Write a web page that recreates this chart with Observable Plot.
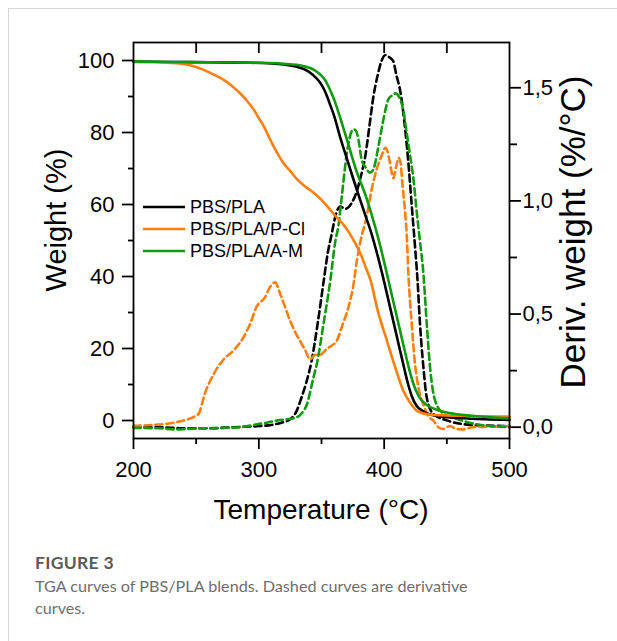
<!DOCTYPE html>
<html>
<head>
<meta charset="utf-8">
<script src="https://cdn.jsdelivr.net/npm/d3@7"></script>
<script src="https://cdn.jsdelivr.net/npm/@observablehq/plot@0.6"></script>
<style>
  html, body { margin: 0; padding: 0; background: #fff; }
  body { width: 617px; height: 641px; overflow: hidden; position: relative; font-family: "Liberation Sans", Arial, sans-serif; }
  #border { position: absolute; left: 8px; top: 8px; width: 720px; height: 720px; border: 1px solid #d6d6d6; }
  #chart { position: absolute; left: 0; top: 0; }
  .ytitle { position: absolute; white-space: nowrap; line-height: 1; color: #000; transform: translate(-50%, -50%) rotate(-90deg); }
  #xtitle { position: absolute; white-space: nowrap; line-height: 1; color: #000; transform: translateX(-50%); }
  #legend { position: absolute; left: 143px; top: 196px; }
  .row { height: 22px; display: flex; align-items: center; font-size: 18px; color: #000; }
  .row svg { margin-right: 5px; }
  #caption { position: absolute; left: 35px; top: 551px; width: 560px; font-family: Lato, "Open Sans", sans-serif; }
  #fig { font-weight: 700; font-size: 17.5px; line-height: 24px; color: #5a5a5a; letter-spacing: 0.3px; }
  #cap { font-size: 16.2px; line-height: 22.3px; color: #6e6e6e; width: 450px; }
</style>
</head>
<body>
<div id="border"></div>
<div id="chart"></div>
<div class="ytitle" style="left:56px; top:220px; font-size:29px;">Weight (%)</div>
<div class="ytitle" style="left:572px; top:232px; font-size:35px;">Deriv. weight (%/°C)</div>
<div id="xtitle" style="left:321px; top:496px; font-size:28px;">Temperature (°C)</div>
<div id="legend"></div>
<div id="caption">
  <div id="fig">FIGURE 3</div>
  <div id="cap">TGA curves of PBS/PLA blends. Dashed curves are derivative curves.</div>
</div>
<script>
// ---------- data ----------
const seriesNames = ["PBS/PLA", "PBS/PLA/P-Cl", "PBS/PLA/A-M"];
const seriesColors = ["#000000", "#ff7f0e", "#109a10"];

// TGA weight (%) curves
const plaT = [200,230,260,290,310,320,330,336,341,345,349,352,354.5,357,360,365,370,375,380,385,390,395,400,405,410,415,419,422,426,430,434,440,445,460,480,500];
const plaW = [99.7,99.6,99.5,99.4,99.2,98.9,98.3,97.6,96.6,95.4,93.8,92.0,90.0,87.6,84.7,78.6,73.0,67.5,62.2,57.0,51.8,45.5,38.5,31.0,23.5,16.0,10.2,6.8,4.0,2.8,2.0,1.4,1.1,0.7,0.35,0.15];

const pclT = [200,220,237,250,256,264,272,279,285,291,296,300,304,308,312,316,320,325,330,337,344,350,357,362,368,372,376,382,385,389,395,402,408.6,415,421,427,437,458,500];
const pclW = [99.6,99.5,99.2,98.2,97.4,96.1,94.6,92.8,90.9,88.6,86.3,84.0,81.7,78.8,76.0,73.5,71.3,69.3,67.2,65.0,63.2,61.3,58.5,56.5,54.2,52.2,49.8,45.6,42.8,39.1,30.3,22.4,15.0,8.5,4.8,2.5,1.6,1.3,1.1];

const amT = [200,230,260,290,310,320,330,337,341,345,349,352,355,358,360,365,371.5,378,385,390,395,400,405,410,415,420,424,428,434,442,452,470,500];
const amW = [99.7,99.6,99.5,99.4,99.3,99.1,98.8,98.3,97.9,97.2,96.1,95.0,93.2,90.9,89.2,84.0,76.6,69.2,62.7,57.2,51.0,44.0,36.5,29.0,21.5,14.2,9.5,6.5,4.3,3.0,2.1,1.3,0.6];

// DTG derivative (%/°C) curves
const plaDT = [200,220,240,260,280,300,310,318,325,330,334,338,342,347,351.6,355,358,362,365,369,372,375,378,381,385,388,391.4,395,398,401,404,407,410,412.7,416.7,419.3,422,424.6,426.5,428.6,431.3,434,439,450,470,500];
const plaD = [0.0,0.0,-0.005,-0.005,0.0,0.005,0.01,0.02,0.035,0.07,0.13,0.2,0.29,0.46,0.64,0.77,0.85,0.95,0.975,0.965,0.975,1.0,1.04,1.1,1.2,1.32,1.46,1.56,1.62,1.645,1.635,1.62,1.55,1.49,1.32,1.17,0.98,0.8,0.66,0.456,0.265,0.13,0.06,0.03,0.01,0.005];

const pclDT = [200,215,227,240,248,252,257,264,272,280,288,293,298,305,309,313,317,321,325,329,333,337,341,345,349,354,358,362,367,371.5,375.5,378.2,381,386,390,394,398,401,403.5,405.5,407.4,409.5,411.5,413,414.5,416.7,418,419.3,422,424.6,427.3,431.3,435,439.2,443.2,447.2,452.5,457.8,463,470,485,500];
const pclD = [0.005,0.01,0.015,0.03,0.045,0.06,0.15,0.235,0.3,0.34,0.4,0.456,0.53,0.575,0.62,0.64,0.59,0.53,0.47,0.42,0.38,0.34,0.3,0.32,0.32,0.345,0.36,0.38,0.456,0.53,0.63,0.735,0.82,0.93,1.05,1.14,1.2,1.235,1.2,1.14,1.1,1.15,1.19,1.17,1.08,0.95,0.85,0.68,0.456,0.28,0.176,0.1,0.05,0.03,0.0,-0.008,0.005,-0.008,-0.01,0.0,0.002,0.005];

const amDT = [200,220,235,242,255,270,285,298,308,315,322,328,334,338.3,343.6,346.3,351.6,357,361,363.5,366.2,370.2,372.9,375.5,377.5,379.5,382.1,385,388.8,391.4,395.4,399.4,403.4,406,409,412.7,415.3,418,420.7,423.3,426,428.6,431.3,434,436.6,440.6,447.2,457.8,475,500];
const amD = [-0.003,-0.005,-0.01,-0.008,-0.005,-0.003,0.0,0.012,0.022,0.03,0.035,0.04,0.06,0.1,0.22,0.28,0.456,0.647,0.82,0.89,1.02,1.21,1.29,1.316,1.31,1.27,1.18,1.15,1.125,1.14,1.24,1.36,1.45,1.465,1.475,1.45,1.4,1.3,1.2,1.1,0.95,0.82,0.68,0.456,0.265,0.118,0.06,0.037,0.012,0.0];

// ticks
const xMajor = [200,300,400,500];
const xMinor = [250,350,450];
const xTop = [250,300,350,400,450];
const yMajor = [0,20,40,60,80,100];
const yMinor = [10,30,50,70,90];
const dMajor = [0,0.5,1.0,1.5];
const dMinor = [0.25,0.75,1.25];

// ---------- scales ----------
const yDomain = [-5,105];
const dDomain = [-0.05,1.70];
const K = (yDomain[1]-yDomain[0])/(dDomain[1]-dDomain[0]);
const toW = d => yDomain[0] + (d - dDomain[0]) * K;
const fromW = w => dDomain[0] + (w - yDomain[0]) / K;

const solids = [
  {T: plaT, V: plaW, c: seriesColors[0]},
  {T: pclT, V: pclW, c: seriesColors[1]},
  {T: amT,  V: amW,  c: seriesColors[2]}
];
const dashes = [
  {T: plaDT, V: plaD, c: seriesColors[0]},
  {T: pclDT, V: pclD, c: seriesColors[1]},
  {T: amDT,  V: amD,  c: seriesColors[2]}
];

const W = 617, H = 530;
const mL = 133, mR = 108, mT = 42, mB = 92;
const innerH = H - mT - mB;

const marks = [];
// dashed derivative curves (drawn first)
for (const s of dashes) {
  const data = s.T.map((t,i) => ({t, v: toW(s.V[i])}));
  marks.push(Plot.line(data, {x: "t", y: "v", stroke: s.c, strokeWidth: 2.6, strokeDasharray: "7,4", curve: "monotone-x"}));
}
for (const s of solids) {
  const data = s.T.map((t,i) => ({t, v: s.V[i]}));
  marks.push(Plot.line(data, {x: "t", y: "v", stroke: s.c, strokeWidth: 2.6, curve: "monotone-x"}));
}
const tickStyle = {strokeWidth: 1.8, fontSize: 22};
marks.push(
  Plot.axisX(xMajor, {anchor: "bottom", tickSize: 11, tickPadding: 12, label: null, ...tickStyle}),
  Plot.axisX(xMinor, {anchor: "bottom", tickSize: 6, tickFormat: () => "", label: null, strokeWidth: 1.8}),
  Plot.tickX(xTop, {x: d => d, insetBottom: innerH - 11, stroke: "#000", strokeWidth: 1.8}),
  Plot.axisY(yMajor, {anchor: "left", tickSize: 11, tickPadding: 8, label: null, ...tickStyle}),
  Plot.axisY(yMinor, {anchor: "left", tickSize: 5, tickFormat: () => "", label: null, strokeWidth: 1.8}),
  Plot.axisY(dMajor.map(toW), {anchor: "right", tickSize: 11, tickPadding: 2, label: null,
    tickFormat: w => fromW(w).toFixed(1).replace(".", ","), ...tickStyle}),
  Plot.axisY(dMinor.map(toW), {anchor: "right", tickSize: 7, tickFormat: () => "", label: null, strokeWidth: 1.8}),
  Plot.frame({stroke: "#000", strokeWidth: 1.8})
);

const chart = Plot.plot({
  width: W, height: H,
  marginLeft: mL, marginRight: mR, marginTop: mT, marginBottom: mB,
  x: {domain: [200, 500], axis: null},
  y: {domain: yDomain, axis: null},
  style: {fontFamily: "'Liberation Sans', Arial, sans-serif", color: "#000", background: "transparent", overflow: "visible"},
  marks
});
document.getElementById("chart").appendChild(chart);

// legend
const legend = document.getElementById("legend");
seriesNames.forEach((name, i) => {
  const row = document.createElement("div");
  row.className = "row";
  row.innerHTML = `<svg width="42" height="22"><line x1="0" x2="42" y1="11" y2="11" stroke="${seriesColors[i]}" stroke-width="2.6"/></svg><span>${name}</span>`;
  legend.appendChild(row);
});
</script>
</body>
</html>
